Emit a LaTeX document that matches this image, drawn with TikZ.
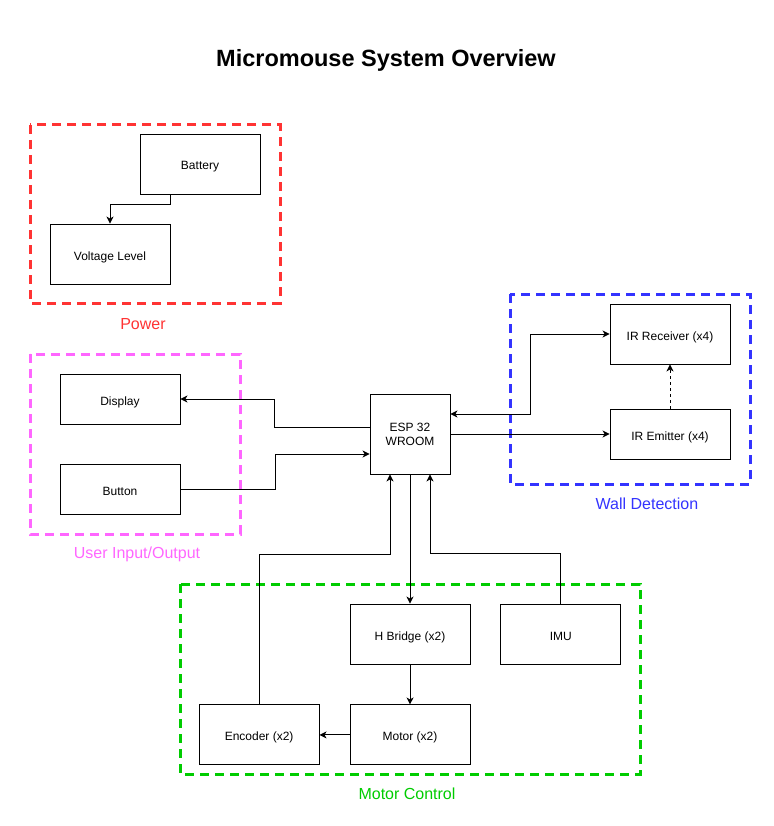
\documentclass[tikz,border=0pt]{standalone}
\usepackage{fontspec}
\setmainfont{Liberation Sans}
\usetikzlibrary{arrows.meta, positioning}
\usepackage{xcolor}
\definecolor{powergrp}{RGB}{255, 51, 51}
\definecolor{iogrp}{RGB}{255, 102, 255}
\definecolor{wallgrp}{RGB}{51, 51, 255}
\definecolor{motorgrp}{RGB}{0, 204, 0}
\tikzstyle{block}   = [rectangle, minimum width=120pt, minimum height=60pt, inner sep=0pt,
                       text centered, text height=12pt, text depth=0pt, draw=black,
                       line width=0.9pt, fill=white, font=\fontsize{12}{14}\selectfont]
\tikzstyle{thin}    = [block, minimum height=50pt]
\tikzstyle{mcu}     = [rectangle, minimum width=80pt, minimum height=80pt, inner sep=0pt,
                       align=center, draw=black, line width=0.9pt, fill=white,
                       font=\fontsize{12}{14}\selectfont]
\tikzstyle{group}   = [line width=3pt, dash pattern=on 9pt off 6pt]
\tikzstyle{grplbl}  = [font=\fontsize{16}{18}\selectfont]
\tikzstyle{arrow}   = [-{Stealth[length=7pt, width=7pt, inset=2pt]}, line width=0.9pt]
\tikzstyle{biarrow} = [{Stealth[length=7pt, width=7pt, inset=2pt]}-{Stealth[length=7pt, width=7pt, inset=2pt]}, line width=0.9pt]

\begin{document}
\begin{tikzpicture}[x=1pt, y=-1pt]
  \useasboundingbox (0,0) rectangle (773,826);

  \node (title) at (386,60) {\fontsize{23.5}{28}\selectfont\bfseries Micromouse System Overview};

  % Group frames
  \draw [group, powergrp] (30,125) rectangle (280,303);
  \draw [group, iogrp]    (30,354) rectangle (240,534);
  \draw [group, wallgrp]  (510,294) rectangle (750,484);
  \draw [group, motorgrp] (180,584) rectangle (640,774);
  \node (powerlbl) [grplbl, text=powergrp] at (143,324) {Power};
  \node (iolbl)    [grplbl, text=iogrp]    at (137,554) {User Input/Output};
  \node (walllbl)  [grplbl, text=wallgrp]  at (647,504) {Wall Detection};
  \node (motorlbl) [grplbl, text=motorgrp] at (407,794) {Motor Control};

  % Power
  \node (battery) [block] at (200,164) {Battery};
  \node (voltage) [block] at (110,254) {Voltage Level};

  % User I/O
  \node (display) [thin] at (120,399) {Display};
  \node (button)  [thin, below=40pt of display] {Button};

  % Controller
  \node (esp) [mcu] at (410,434) {ESP 32\\WROOM};

  % Wall detection
  \node (receiver) [block] at (670,334) {IR Receiver (x4)};
  \node (emitter)  [thin]  at (670,434) {IR Emitter (x4)};

  % Motor control
  \node (hbridge) [block] at (410,634) {H Bridge (x2)};
  \node (imu)     [block, right=30pt of hbridge] {IMU};
  \node (motor)   [block, below=40pt of hbridge] {Motor (x2)};
  \node (encoder) [block, left=30pt of motor]    {Encoder (x2)};

  \draw [arrow] ([xshift=-30pt]battery.south) -- ++(0,10) -| (voltage.north);
  \draw [arrow] ([yshift=7pt]esp.west) -- ++(-95,0) |- (display.east);
  \draw [arrow] (button.east) -- ++(95,0) |- ([yshift=-20pt]esp.west);
  \draw [biarrow] ([yshift=20pt]esp.east) -- ++(80,0) |- (receiver.west);
  \draw [arrow] (esp.east) -- (emitter.west);
  \draw [arrow, dashed] (emitter) -- (receiver);
  \draw [arrow] (esp) -- (hbridge);
  \draw [arrow] (hbridge) -- (motor);
  \draw [arrow] (motor) -- (encoder);
  \draw [arrow] (encoder.north) -- ++(0,-150) -| ([xshift=-20pt]esp.south);
  \draw [arrow] (imu.north) -- ++(0,-50) -| ([xshift=20pt]esp.south);
\end{tikzpicture}
\end{document}
